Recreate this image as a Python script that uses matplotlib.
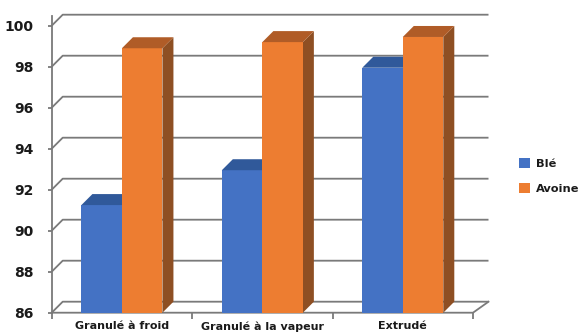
import numpy as np
import matplotlib
matplotlib.use("Agg")
import matplotlib.pyplot as plt
from matplotlib.patches import Polygon, Patch

# Data
categories = ["Granulé à froid", "Granulé à la vapeur", "Extrudé"]
series_names = ["Blé", "Avoine"]
ble = [91.25, 92.95, 97.95]
avoine = [98.9, 99.2, 99.45]
y_ticks = [86, 88, 90, 92, 94, 96, 98, 100]

# Colours (front / top / side faces)
BLUE = ("#4472C4", "#30599A", "#2A4F86")
ORANGE = ("#ED7D31", "#B05C27", "#8E4F23")
GRID = "#7a7a7a"
TEXT = "#1a1a1a"

W, H = 584, 335
fig = plt.figure(figsize=(W / 100, H / 100), dpi=100)
left_px, right_px, top_px, bot_px = 51.7, 473.0, 25.7, 312.7
ax = fig.add_axes([left_px / W, (H - bot_px) / H,
                   (right_px - left_px) / W, (bot_px - top_px) / H])
ax.set_xlim(-0.5, 2.5)
ax.set_ylim(86, 100)

# pixel -> data unit factors, used for the oblique depth of the 3-D look
ux = 3.0 / (right_px - left_px)
uy = 14.0 / (bot_px - top_px)
DX, DY = 11 * ux, 11 * uy          # depth of bars and back wall
DX_R = 15.5 * ux                   # right end of back wall
LW = 1.3

x = np.arange(len(categories))
w = 0.2885

# Back wall gridlines with their diagonal links to the front axis
for v in y_ticks:
    ax.plot([-0.5, -0.5 + DX, 2.5 + DX_R], [v, v + DY, v + DY],
            color=GRID, lw=LW, clip_on=False, zorder=1,
            solid_capstyle="butt")
# Floor front edge and right edge
ax.plot([-0.5, 2.5, 2.5 + DX_R], [86, 86, 86 + DY], color=GRID, lw=LW,
        clip_on=False, zorder=1)
# Front vertical axis line
ax.plot([-0.5, -0.5], [86, 100 + 10 * uy], color=GRID, lw=LW,
        clip_on=False, zorder=1)


def draw_bars(xs, vals, cols, z):
    ax.bar(xs, np.array(vals) - 86, bottom=86, width=w, color=cols[0],
           align="edge", zorder=z + 0.5, linewidth=0)
    for xl, v in zip(xs, vals):
        xr = xl + w
        top = Polygon([(xl, v), (xl + DX, v + DY), (xr + DX, v + DY), (xr, v)],
                      closed=True, facecolor=cols[1], edgecolor="none",
                      clip_on=False, zorder=z + 0.5)
        side = Polygon([(xr, 86), (xr + DX, 86 + DY), (xr + DX, v + DY), (xr, v)],
                       closed=True, facecolor=cols[2], edgecolor="none",
                       clip_on=False, zorder=z)
        ax.add_patch(top)
        ax.add_patch(side)


draw_bars(x - w, ble, BLUE, 2)
draw_bars(x, avoine, ORANGE, 3)

# Axes styling
for s in ax.spines.values():
    s.set_visible(False)
ax.set_yticks(y_ticks)
ax.set_yticklabels([str(t) for t in y_ticks])
ax.tick_params(axis="y", direction="out", length=3, width=LW, color=GRID,
               pad=10, labelsize=10, labelcolor=TEXT)
for lab in ax.get_yticklabels():
    lab.set_fontweight("bold")

ax.set_xticks([-0.5, 0.5, 1.5, 2.5])
ax.set_xticklabels([])
ax.set_xticks(x, minor=True)
ax.set_xticklabels(categories, minor=True)
ax.tick_params(axis="x", which="major", direction="out", length=4, width=LW,
               color=GRID)
ax.tick_params(axis="x", which="minor", length=0, pad=6, labelsize=8,
               labelcolor=TEXT)
for lab in ax.get_xticklabels(minor=True):
    lab.set_fontweight("bold")

# Legend
handles = [Patch(facecolor=BLUE[0], edgecolor="none"),
           Patch(facecolor=ORANGE[0], edgecolor="none")]
leg = fig.legend(handles, series_names, loc="center left",
                 bbox_to_anchor=(509 / W, 1 - 176 / H), frameon=False,
                 handlelength=0.95, handleheight=0.95, handletextpad=0.55,
                 labelspacing=1.25, prop={"size": 8.2, "weight": "bold"})
for t in leg.get_texts():
    t.set_color(TEXT)

fig.savefig("out.png", dpi=100)
